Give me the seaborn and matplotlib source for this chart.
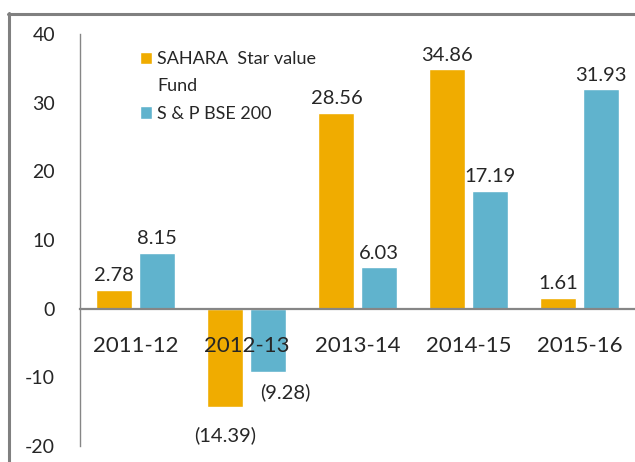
import numpy as np
import pandas as pd
import matplotlib.pyplot as plt
import seaborn as sns
from matplotlib.patches import Patch
from matplotlib.lines import Line2D

# data
years = ['2011-12', '2012-13', '2013-14', '2014-15', '2015-16']
sahara = [2.78, -14.39, 28.56, 34.86, 1.61]
bse200 = [8.15, -9.28, 6.03, 17.19, 31.93]
series = ['SAHARA  Star value Fund', 'S & P BSE 200']
colors = ['#F0AC00', '#60B3CD']

df = pd.DataFrame({
    'year': years * 2,
    'ret': sahara + bse200,
    'fund': [series[0]] * len(years) + [series[1]] * len(years),
})

sns.set_style('white')
plt.rcParams['font.family'] = ['Lato', 'DejaVu Sans']
plt.rcParams['axes.unicode_minus'] = False
gray = '#868686'

fig = plt.figure(figsize=(6.35, 4.62), dpi=100)
ax = fig.add_axes([80 / 635, 16 / 462, 555 / 635, 412 / 462])
sns.barplot(data=df, x='year', y='ret', hue='fund', palette=colors,
            width=0.76, gap=0.15, saturation=1, legend=False, ax=ax)

ax.set_xlim(-0.5, 4.5)
ax.set_ylim(-20, 40)
ax.set_yticks(np.arange(-20, 41, 10))
ax.set_xlabel('')
ax.set_ylabel('')
ax.set_axisbelow(False)  # category labels sit on top of the bars

# axes look
for s in ['top', 'right']:
    ax.spines[s].set_visible(False)
ax.spines['left'].set_color(gray)
ax.spines['left'].set_linewidth(1)
ax.spines['bottom'].set_position(('data', 0))
ax.spines['bottom'].set_color(gray)
ax.spines['bottom'].set_linewidth(1.6)

ax.set_xticks(np.arange(-0.5, 5, 1))
ax.set_xticklabels([])
ax.set_xticks(range(len(years)), minor=True)
ax.set_xticklabels(years, minor=True)
ax.tick_params(axis='x', which='major', length=6, width=1, color=gray, direction='out')
ax.tick_params(axis='x', which='minor', length=0, pad=20, labelsize=16)
ax.tick_params(axis='y', length=6, width=1, color=gray, direction='out', pad=12, labelsize=14)

# value labels
neg_offsets = {(0, 1): (0, -20), (1, 1): (13, -14)}
for si, cont in enumerate(ax.containers):
    vals = [sahara, bse200][si]
    for ci, bar in enumerate(cont):
        v = vals[ci]
        x = bar.get_x() + bar.get_width() / 2
        if v >= 0:
            ax.annotate(f'{v:.2f}', (x, v), xytext=(0, 4), textcoords='offset points',
                        ha='center', va='bottom', fontsize=14.5)
        else:
            ax.annotate(f'({abs(v):.2f})', (x, v), xytext=neg_offsets[(si, ci)],
                        textcoords='offset points', ha='center', va='center', fontsize=14.5)

# legend (second line of the first label wraps, like in the original)
handles = [Patch(facecolor=colors[0]), Patch(facecolor='none', edgecolor='none'),
           Patch(facecolor=colors[1])]
labels = ['SAHARA  Star value', 'Fund', 'S & P BSE 200']
ax.legend(handles, labels, loc='upper left', bbox_to_anchor=(0.108, 0.958),
          frameon=False, fontsize=13, handlelength=0.67, handleheight=0.67,
          handletextpad=0.3, labelspacing=0.62, borderpad=0, borderaxespad=0)

# chart frame (top and left edges visible)
fig.add_artist(Line2D([8 / 635, 1], [1 - 13.5 / 462] * 2, transform=fig.transFigure,
                      color='#808080', lw=2.2))
fig.add_artist(Line2D([8.5 / 635] * 2, [0, 1 - 12.5 / 462], transform=fig.transFigure,
                      color='#808080', lw=2.2))

fig.savefig('out.png', dpi=100)
